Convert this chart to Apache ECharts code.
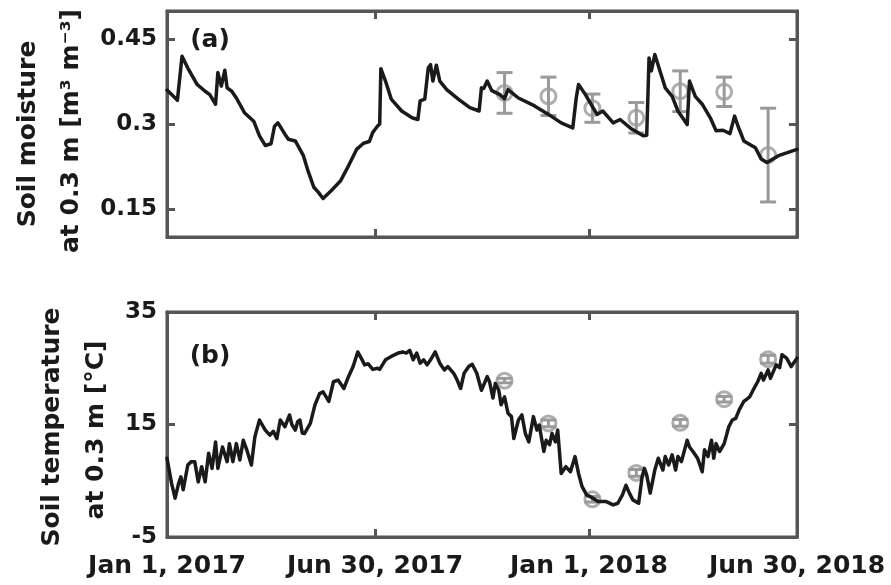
<!DOCTYPE html>
<html><head><meta charset="utf-8">
<script src="https://cdn.jsdelivr.net/npm/echarts@6/dist/echarts.min.js"></script>
<style>html,body{margin:0;padding:0;background:#fff}#c{width:891px;height:585px}</style>
</head><body><div id="c"></div>
<script>
// ---- data (x = days since Jan 1, 2017) ----
const xTickDays = [0, 180, 365, 545];
const xTickLabels = ['Jan 1, 2017', 'Jun 30, 2017', 'Jan 1, 2018', 'Jun 30, 2018'];
const moistureTicks = [0.15, 0.3, 0.45];
const moistureTickLabels = ['0.15', '0.3', '0.45'];
const tempTicks = [-5, 15, 35];
const tempTickLabels = ['-5', '15', '35'];

const moistureDays = [0,4,9,13,18,26,33,37,42,44,47,50,52,56,60,67,75,80,85,90,93,96,102,105,111,118,122,127,131,135,142,150,157,164,170,175,178,182,184,185,189,194,203,212,217,219,223,226,228,230,233,236,242,252,262,270,272,274,277,281,288,292,295,304,318,330,341,351,354,356,362,366,372,377,386,392,402,412,415,417,419,422,426,431,437,442,450,452,457,463,470,475,481,487,491,494,499,509,514,519,529,545];
const moistureValues = [0.360,0.352,0.342,0.420,0.399,0.370,0.358,0.352,0.335,0.391,0.367,0.395,0.364,0.358,0.346,0.320,0.305,0.279,0.262,0.265,0.296,0.302,0.282,0.273,0.270,0.244,0.217,0.188,0.179,0.168,0.182,0.199,0.226,0.255,0.266,0.269,0.285,0.296,0.300,0.398,0.376,0.344,0.323,0.311,0.308,0.341,0.344,0.399,0.405,0.376,0.404,0.376,0.361,0.344,0.329,0.323,0.364,0.363,0.376,0.359,0.352,0.345,0.361,0.346,0.332,0.317,0.302,0.293,0.346,0.370,0.352,0.338,0.317,0.323,0.302,0.308,0.291,0.279,0.280,0.417,0.394,0.423,0.397,0.364,0.349,0.323,0.299,0.376,0.349,0.335,0.311,0.288,0.289,0.283,0.314,0.296,0.270,0.258,0.238,0.232,0.244,0.255];

const tempDays = [0,4,7,10,12,14,18,21,24,27,30,33,36,39,42,44,48,52,54,57,60,63,66,69,73,76,80,85,89,92,95,98,102,106,108,111,113,115,117,119,122,124,128,132,135,140,144,148,153,157,161,165,168,171,174,178,182,184,189,194,200,204,207,210,213,216,219,222,225,228,232,236,240,243,248,251,254,257,261,264,268,272,277,279,282,284,287,289,292,295,298,300,304,307,310,313,317,320,322,326,328,331,333,336,338,341,345,349,353,356,359,363,366,373,380,386,390,394,397,400,403,408,411,413,415,418,422,425,429,431,434,437,440,442,445,450,452,455,459,463,465,468,471,473,475,478,482,486,489,492,495,499,501,504,507,511,514,516,520,522,527,530,532,536,540,545];
const tempValues = [9.0,4.5,1.9,4.5,5.7,3.4,7.8,8.4,8.4,4.8,7.5,4.8,9.9,7.2,11.9,7.2,11.0,8.4,11.6,8.4,11.6,8.7,12.2,10.5,7.8,12.8,15.8,14.0,13.1,13.8,12.5,15.8,14.6,16.7,15.0,14.0,15.5,15.8,13.5,13.4,14.5,15.2,18.5,20.5,20.8,19.1,22.6,22.9,21.4,23.5,25.3,27.9,26.8,25.6,25.8,24.8,25.0,24.8,26.5,27.1,27.7,27.9,27.7,28.2,26.5,27.7,25.9,26.5,25.6,26.5,27.9,25.9,24.7,25.3,24.1,22.9,21.4,24.1,25.3,25.7,24.1,21.1,23.5,22.6,19.7,22.3,21.1,18.5,19.9,17.0,16.4,12.5,15.8,16.7,13.4,11.9,16.4,14.0,14.9,10.2,12.2,11.4,13.4,11.9,14.0,6.3,7.5,6.6,9.3,6.3,4.0,2.5,2.2,1.3,1.3,0.7,1.0,2.5,4.2,2.8,1.6,1.0,5.7,7.2,6.0,2.8,6.9,9.0,6.9,9.3,7.8,9.6,6.9,9.3,8.4,12.2,11.0,10.2,9.0,6.6,10.5,9.3,12.2,9.0,11.6,10.2,11.6,14.6,15.8,16.1,17.6,19.1,19.4,19.9,21.1,22.6,24.1,22.9,24.7,23.2,25.6,25.1,27.4,26.8,25.3,26.8];

const obsDays = [292, 330, 368, 406, 444, 482, 520];
const obsMoisture = [0.355, 0.349, 0.328, 0.311, 0.358, 0.357, 0.245];
const obsMoistureErr = [0.036, 0.034, 0.025, 0.027, 0.036, 0.026, 0.083];
const obsTemp = [22.8, 15.2, 1.7, 6.4, 15.3, 19.5, 26.6];
const obsTempErr = [0.4, 0.6, 0.5, 0.6, 0.6, 0.5, 0.7];

// ---- styling ----
const FRAME = '#555555';
const INK = '#1a1a1a';
const GREY = '#9a9a9a';
const FONT = '"DejaVu Sans"';

function pairs(xs, ys) { return xs.map((x, i) => [x, ys[i]]); }
function errData(xs, ys, es) { return xs.map((x, i) => [x, ys[i] - es[i], ys[i] + es[i]]); }

function errRender(params, api) {
  const x = api.value(0);
  const lo = api.coord([x, api.value(1)]);
  const hi = api.coord([x, api.value(2)]);
  const w = 8;
  const st = { stroke: GREY, lineWidth: 3 };
  return { type: 'group', children: [
    { type: 'line', shape: { x1: lo[0], y1: lo[1], x2: hi[0], y2: hi[1] }, style: st },
    { type: 'line', shape: { x1: hi[0] - w, y1: hi[1], x2: hi[0] + w, y2: hi[1] }, style: st },
    { type: 'line', shape: { x1: lo[0] - w, y1: lo[1], x2: lo[0] + w, y2: lo[1] }, style: st }
  ]};
}

function xAx(grid, pos, labels) {
  return {
    type: 'value', gridIndex: grid, position: pos, min: 0, max: 545,
    axisLine: { show: true, onZero: false, lineStyle: { color: FRAME, width: 3 } }, splitLine: { show: false },
    axisTick: { show: true, inside: true, length: 8, customValues: [180, 365], lineStyle: { color: FRAME, width: 3 } },
    axisLabel: {
      show: true, customValues: xTickDays, margin: 17,
      fontFamily: FONT, fontWeight: 'bold', fontSize: 25, color: INK,
      formatter: v => labels ? xTickLabels[xTickDays.indexOf(v)] : ''
    }
  };
}
function yAx(grid, pos, min, max, ticks, tickLabels, labels) {
  return {
    type: 'value', gridIndex: grid, position: pos, min: min, max: max,
    axisLine: { show: true, onZero: false, lineStyle: { color: FRAME, width: 3 } }, splitLine: { show: false },
    axisTick: { show: true, inside: true, length: 8, customValues: ticks.slice(ticks[0] === min ? 1 : 0, ticks[ticks.length - 1] === max ? -1 : undefined), lineStyle: { color: FRAME, width: 3 } },
    axisLabel: {
      show: true, customValues: ticks, margin: 10,
      fontFamily: FONT, fontWeight: 'bold', fontSize: 23, color: INK,
      formatter: v => labels ? tickLabels[ticks.indexOf(v)] : ''
    }
  };
}

const chart = echarts.init(document.getElementById('c'), null, { renderer: 'canvas' });
chart.setOption({
  animation: false,
  backgroundColor: '#ffffff',
  grid: [
    { left: 167, top: 11, width: 630, height: 226, show: true, borderColor: FRAME, borderWidth: 3, backgroundColor: 'transparent', containLabel: false, outerBoundsMode: 'none' },
    { left: 167, top: 312, width: 630, height: 225, show: true, borderColor: FRAME, borderWidth: 3, backgroundColor: 'transparent', containLabel: false, outerBoundsMode: 'none' }
  ],
  xAxis: [ xAx(0, 'bottom', false), xAx(0, 'top', false), xAx(1, 'bottom', true), xAx(1, 'top', false) ],
  yAxis: [
    yAx(0, 'left', 0.1, 0.5, moistureTicks, moistureTickLabels, true),
    yAx(0, 'right', 0.1, 0.5, moistureTicks, moistureTickLabels, false),
    yAx(1, 'left', -5, 35, tempTicks, tempTickLabels, true),
    yAx(1, 'right', -5, 35, tempTicks, tempTickLabels, false)
  ],
  series: [
    { type: 'custom', xAxisIndex: 0, yAxisIndex: 0, renderItem: errRender, data: errData(obsDays, obsMoisture, obsMoistureErr), z: 2, encode: { x: 0, y: [1, 2] } },
    { type: 'scatter', xAxisIndex: 0, yAxisIndex: 0, data: pairs(obsDays, obsMoisture), symbol: 'circle', symbolSize: 15, z: 3,
      itemStyle: { color: 'rgba(0,0,0,0)', borderColor: GREY, borderWidth: 3 } },
    { type: 'line', xAxisIndex: 0, yAxisIndex: 0, data: pairs(moistureDays, moistureValues), showSymbol: false, z: 5,
      lineStyle: { color: INK, width: 3.5, join: 'round', cap: 'round' } },
    { type: 'custom', xAxisIndex: 2, yAxisIndex: 2, renderItem: errRender, data: errData(obsDays, obsTemp, obsTempErr), z: 2, encode: { x: 0, y: [1, 2] } },
    { type: 'scatter', xAxisIndex: 2, yAxisIndex: 2, data: pairs(obsDays, obsTemp), symbol: 'circle', symbolSize: 15, z: 3,
      itemStyle: { color: 'rgba(0,0,0,0)', borderColor: GREY, borderWidth: 3 } },
    { type: 'line', xAxisIndex: 2, yAxisIndex: 2, data: pairs(tempDays, tempValues), showSymbol: false, z: 5,
      lineStyle: { color: INK, width: 3.5, join: 'round', cap: 'round' } }
  ],
  graphic: [
    { type: 'text', x: 28, y: 134, rotation: Math.PI / 2, style: { text: 'Soil moisture', font: 'bold 25px ' + FONT, fill: INK, align: 'center', verticalAlign: 'middle' } },
    { type: 'text', x: 71, y: 131, rotation: Math.PI / 2, style: { text: 'at 0.3 m [m³ m⁻³]', font: 'bold 25px ' + FONT, fill: INK, align: 'center', verticalAlign: 'middle' } },
    { type: 'text', x: 52, y: 427, rotation: Math.PI / 2, style: { text: 'Soil temperature', font: 'bold 25px ' + FONT, fill: INK, align: 'center', verticalAlign: 'middle' } },
    { type: 'text', x: 96, y: 430, rotation: Math.PI / 2, style: { text: 'at 0.3 m [°C]', font: 'bold 25px ' + FONT, fill: INK, align: 'center', verticalAlign: 'middle' } },
    { type: 'text', x: 210, y: 40, style: { text: '(a)', font: 'bold 25px ' + FONT, fill: INK, align: 'center', verticalAlign: 'middle' } },
    { type: 'text', x: 210, y: 356, style: { text: '(b)', font: 'bold 25px ' + FONT, fill: INK, align: 'center', verticalAlign: 'middle' } }
  ]
});
</script>
</body></html>
